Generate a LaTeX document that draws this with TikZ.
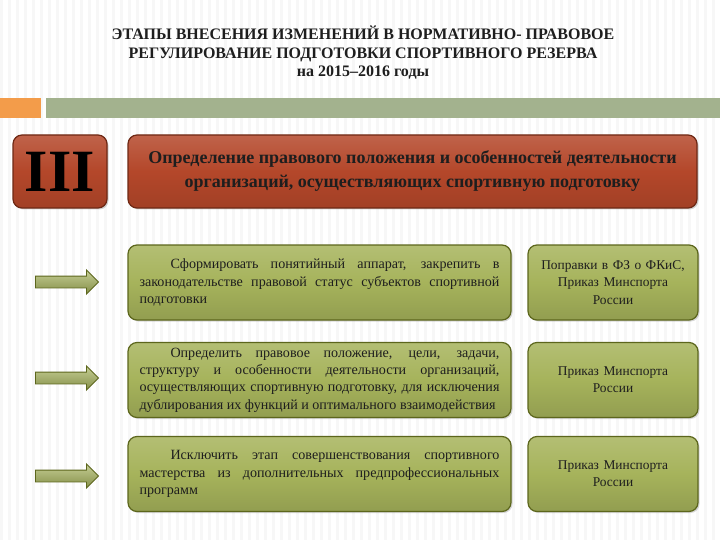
\documentclass[tikz,border=0pt]{standalone}
\usepackage{fontspec}
\setmainfont{Liberation Serif}
\usetikzlibrary{shadows,shapes.arrows}
\definecolor{hdrred}{HTML}{B4472A}
\definecolor{hdrborder}{HTML}{6E2814}
\definecolor{olive}{HTML}{A6B35B}
\definecolor{oliveborder}{HTML}{5C661C}
\definecolor{barorange}{HTML}{F39C4A}
\definecolor{bargreen}{HTML}{A3B28E}
\definecolor{txt}{HTML}{1E1E1E}
\tikzset{
  redbox/.style={draw=hdrborder, line width=1.2pt, rounded corners=9pt,
    top color=hdrred!85!white, bottom color=hdrred!90!black, middle color=hdrred,
    drop shadow={opacity=0.35, shadow xshift=1.5pt, shadow yshift=-1.5pt}},
  greenbox/.style={draw=oliveborder, line width=1.2pt, rounded corners=9pt,
    top color=olive!85!white, bottom color=olive!88!black, middle color=olive,
    drop shadow={opacity=0.3, shadow xshift=1.5pt, shadow yshift=-1.5pt},
    text=txt},
  leftbox/.style={greenbox, minimum width=383pt, minimum height=75pt,
    text width=360pt, align=justify, inner sep=0pt,
    font=\fontsize{14.1}{17.3}\selectfont},
  rightbox/.style={greenbox, minimum width=170pt, minimum height=75pt,
    text width=160pt, align=center, inner sep=0pt,
    font=\fontsize{13.4}{17.3}\selectfont},
  bigarrow/.style={single arrow, draw=oliveborder, line width=0.9pt,
    top color=olive!65!white, bottom color=olive!80!black,
    minimum width=0pt, inner xsep=0pt, inner ysep=5.5pt,
    single arrow head extend=6pt, single arrow head indent=0pt,
    minimum height=63pt, shape border rotate=0},
}
\begin{document}
\begin{tikzpicture}[x=1pt,y=-1pt]
\useasboundingbox (0,0) rectangle (720,540);
\fill[white] (0,0) rectangle (720,540);
\foreach \i in {0,8,...,720} {\fill[black!3] (\i,0) rectangle (\i+3,540);}
% title
\node[text=txt, font=\bfseries\fontsize{16}{18.5}\selectfont, align=center] (title) at (363,53)
  {ЭТАПЫ ВНЕСЕНИЯ ИЗМЕНЕНИЙ В НОРМАТИВНО- ПРАВОВОЕ\\
   РЕГУЛИРОВАНИЕ ПОДГОТОВКИ СПОРТИВНОГО РЕЗЕРВА\\
   на 2015–2016 годы};
% bars
\fill[barorange] (0,98) rectangle (41,118);
\fill[bargreen] (46,98) rectangle (720,118);
% header
\node[redbox, minimum width=94pt, minimum height=73pt, inner sep=0pt,
  font=\bfseries\fontsize{60}{60}\selectfont, text=black] (roman) at (60,171.5) {III};
\node[redbox, minimum width=569pt, minimum height=73pt, inner sep=0pt, align=center,
  font=\bfseries\fontsize{18}{24}\selectfont, text=txt] (head) at (412.5,171.5)
  {Определение правового положения и особенностей деятельности\\
   организаций, осуществляющих спортивную подготовку};
% arrows
\node[bigarrow] (a1) at (64,282) {};
\node[bigarrow] (a2) at (64,378) {};
\node[bigarrow] (a3) at (64,476) {};
% left boxes
\node[leftbox] (b1) at (319.5,282.5)
  {\hspace*{2.2em}Сформировать понятийный аппарат, закрепить в\linebreak
   законодательстве правовой статус субъектов спортивной\linebreak
   подготовки};
\node[leftbox] (b2) at (319.5,380)
  {\hspace*{2.2em}Определить правовое положение, цели, задачи,\linebreak
   структуру и особенности деятельности организаций,\linebreak
   осуществляющих спортивную подготовку, для исключения\linebreak
   дублирования их функций и оптимального взаимодействия};
\node[leftbox] (b3) at (319.5,474)
  {\hspace*{2.2em}Исключить этап совершенствования спортивного\linebreak
   мастерства из дополнительных предпрофессиональных\linebreak
   программ};
% right boxes
\node[rightbox] (r1) at (613,282.5)
  {Поправки в ФЗ о ФКиС,\\ Приказ Минспорта\\ России};
\node[rightbox] (r2) at (613,380)
  {Приказ Минспорта\\ России};
\node[rightbox] (r3) at (613,474)
  {Приказ Минспорта\\ России};
\end{tikzpicture}
\end{document}
